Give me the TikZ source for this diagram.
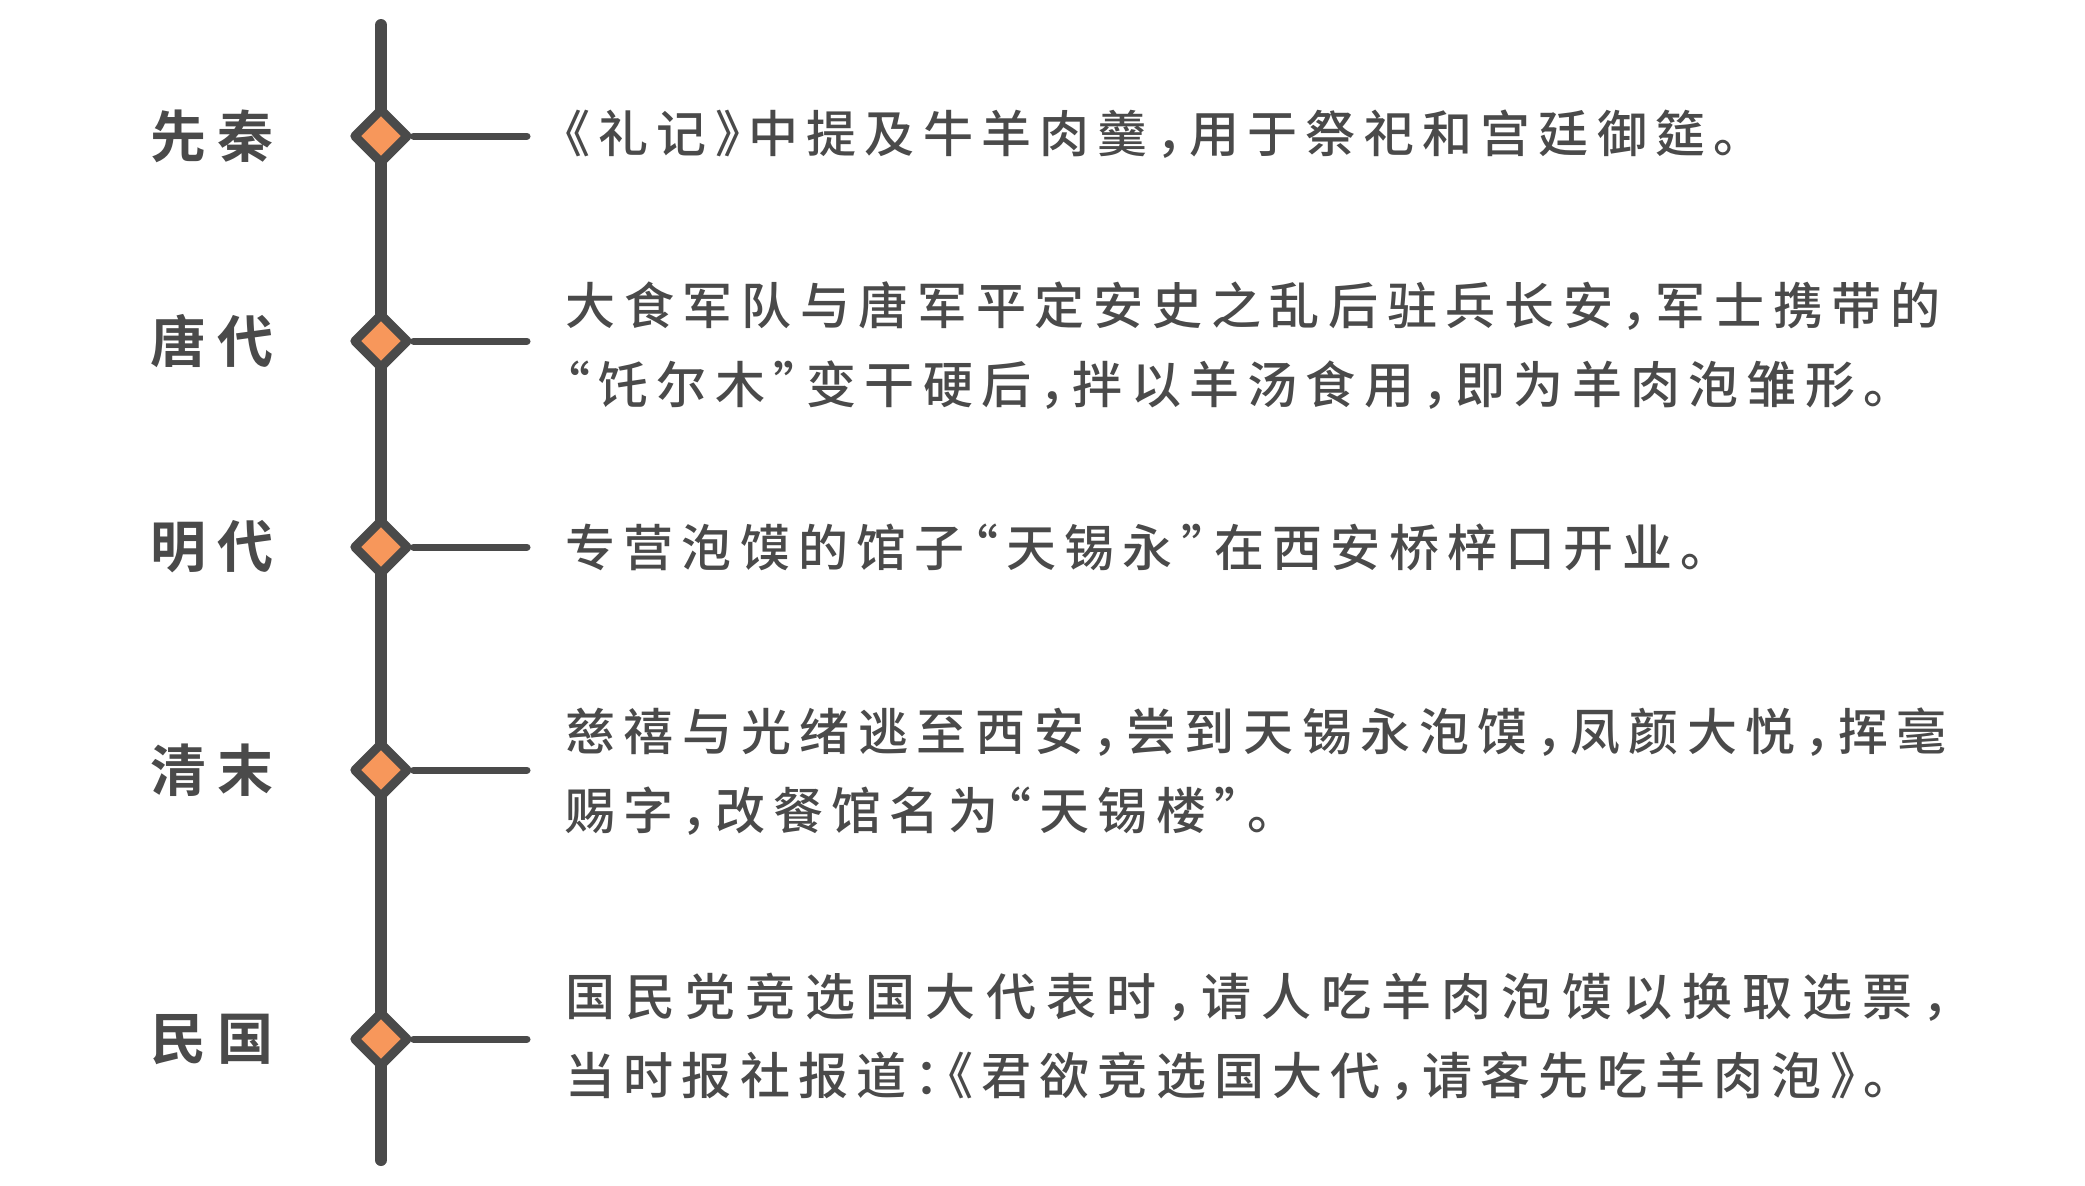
\documentclass[tikz,border=0pt]{standalone}
\usepackage{fontspec}
\usetikzlibrary{shapes.geometric}
\newfontfamily\cjk[LetterSpace=16.5,RawFeature=+halt]{Noto Sans CJK SC Medium}
\newfontfamily\cjklabel[LetterSpace=21]{Noto Sans CJK SC Bold}
\definecolor{linegray}{HTML}{4A4A4A}
\definecolor{markorange}{HTML}{F7975B}
\begin{document}
\begin{tikzpicture}[x=0.5pt,y=-0.5pt,
  stone/.style={diamond,draw=linegray,fill=markorange,line width=4.5pt,line join=round,minimum size=28pt,inner sep=0pt},
  period/.style={font=\cjklabel\fontsize{28pt}{34pt}\selectfont,text=linegray,inner sep=0pt},
  event/.style={anchor=west,align=left,font=\cjk\fontsize{25pt}{39.5pt}\selectfont,text=linegray,inner sep=0pt},
  twig/.style={draw=linegray,line width=3.5pt,line cap=round}]
\useasboundingbox (0,0) rectangle (2085,1185);
\coordinate (top) at (381,25);
\coordinate (bot) at (381,1160);
\draw[linegray,line width=6pt,line cap=round] (top)--(bot);
\node[stone] (d1) at (381,136) {};
\node[stone] (d2) at (381,341) {};
\node[stone] (d3) at (381,547) {};
\node[stone] (d4) at (381,770) {};
\node[stone] (d5) at (381,1039) {};
\coordinate (e1) at (527,136);
\coordinate (e2) at (527,341);
\coordinate (e3) at (527,547);
\coordinate (e4) at (527,770);
\coordinate (e5) at (527,1039);
\draw[twig] (d1.east)--(e1);
\draw[twig] (d2.east)--(e2);
\draw[twig] (d3.east)--(e3);
\draw[twig] (d4.east)--(e4);
\draw[twig] (d5.east)--(e5);
\node[period] (p1) at (212,136) {先秦};
\node[period] (p2) at (212,341) {唐代};
\node[period] (p3) at (212,547) {明代};
\node[period] (p4) at (212,770) {清末};
\node[period] (p5) at (212,1039) {民国};
\node[event] (t1) at (565,134) {《礼记》中提及牛羊肉羹，用于祭祀和宫廷御筵。};
\node[event] (t2) at (565,346) {{\addfontfeature{LetterSpace=17.4}大食军队与唐军平定安史之乱后驻兵长安，军士携带的}\\“饦尔木”变干硬后，拌以羊汤食用，即为羊肉泡雏形。};
\node[event] (t3) at (565,547) {专营泡馍的馆子“天锡永”在西安桥梓口开业。};
\node[event] (t4) at (565,772) {{\addfontfeature{LetterSpace=17.2}慈禧与光绪逃至西安，尝到天锡永泡馍，凤颜大悦，挥毫}\\赐字，改餐馆名为“天锡楼”。};
\node[event] (t5) at (565,1037) {{\addfontfeature{LetterSpace=20.2}国民党竞选国大代表时，请人吃羊肉泡馍以换取选票，}\\当时报社报道：《君欲竞选国大代，请客先吃羊肉泡》。};
\end{tikzpicture}
\end{document}
